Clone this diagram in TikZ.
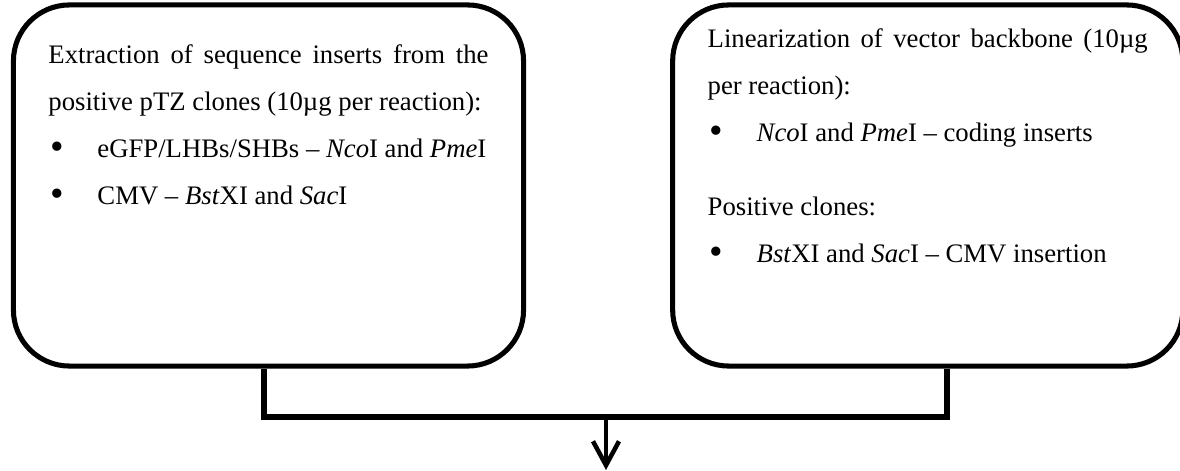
\documentclass[tikz,border=0pt]{standalone}
\usepackage{fontspec}
\setmainfont{Liberation Serif}
\usetikzlibrary{arrows.meta, positioning}
\tikzset{
	box/.style ={rectangle, rounded corners=1.4cm, draw=black, line width=3.6pt, minimum width=12.75cm, minimum height=9.025cm, inner xsep=0.875cm, inner ysep=0.6cm, font=\fontsize{19pt}{33.4pt}\selectfont},
	% connectors
	link/.style={line width=3.8pt},
	arr/.style ={-{Straight Barb[length=0.6cm, width=0.65cm]}, line width=3.2pt},
}
\newcommand{\bitem}{\makebox[1.225cm][l]{\hspace{0.05cm}\raisebox{-0.07em}{\scalebox{1.45}{\textbullet}}}}

\begin{document}
\begin{tikzpicture}[x=0.025cm, y=-0.025cm]
	\useasboundingbox (0,0) rectangle (1180,471);
	\node[box] (lbox) at (268.5,185.5) {\parbox[t][7.825cm][t]{11cm}{\vspace*{0.4cm}Extraction of sequence inserts from the positive pTZ clones (10µg per reaction):\par
		\bitem eGFP/LHBs/SHBs -- \textit{Nco}I and \textit{Pme}I\par
		\bitem CMV -- \textit{Bst}XI and \textit{Sac}I}};
	\node[box, right=3.6cm of lbox] (rbox) {\parbox[t][7.825cm][t]{11cm}{Linearization of vector backbone (10µg per reaction):\par
		\bitem \textit{Nco}I and \textit{Pme}I -- coding inserts\par\vspace{0.675cm}
		Positive clones:\par
		\bitem \textit{Bst}XI and \textit{Sac}I -- CMV insertion}};
	% joining lines and outgoing arrow
	\coordinate (jl) at (264,417);
	\coordinate (jr) at (947,417);
	\coordinate (jm) at (606,417);
	\coordinate (outp) at (606,470);
	\draw[link] (lbox.south -| jl) -- (jl) -- (jr) -- (rbox.south -| jr);
	\draw[arr] (jm) -- (outp);
\end{tikzpicture}
\end{document}
